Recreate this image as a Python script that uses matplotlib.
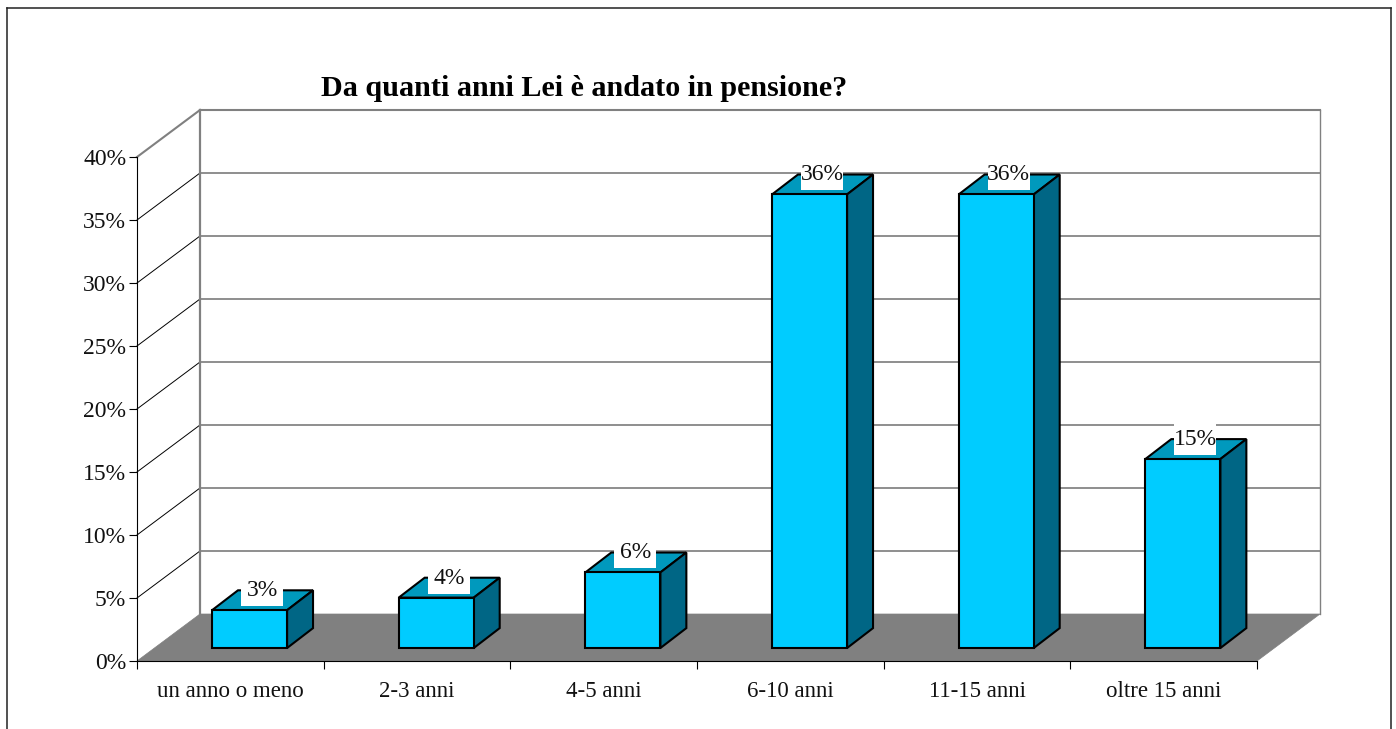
import matplotlib
matplotlib.use("Agg")
import matplotlib.pyplot as plt
from matplotlib.patches import Polygon, Rectangle

plt.rcParams['font.family'] = ['Liberation Serif', 'DejaVu Serif']

categories = ['un anno o meno', '2-3 anni', '4-5 anni', '6-10 anni', '11-15 anni', 'oltre 15 anni']
values = [3, 4, 6, 36, 36, 15]
y_ticks = [0, 5, 10, 15, 20, 25, 30, 35, 40]
title = 'Da quanti anni Lei è andato in pensione?'

W, H = 1396, 729
# front plane of the fake 3d box, in pixels
LEFT, RIGHT, BOTTOM, TOP = 137, 1257, 661, 157

# depth of the box and of the bars, in data units
wall_dx, wall_dy = 0.3375, 3.73
bar_width = 0.402
bar_shift_x, bar_shift_y = 0.603, 1.03
bar_dx, bar_dy = 0.139, 1.58

FRONT = '#00CCFF'
TOPC = '#0099BD'
SIDE = '#006685'
GRAY = '#808080'
GRID = '#707070'

fig = plt.figure(figsize=(W / 100, H / 100), dpi=100)

# outer frame, open at the bottom
frame = fig.add_axes([6.5 / W, 0, (1391 - 6.5) / W, (H - 7.5) / H])
frame.set_xticks([])
frame.set_yticks([])
frame.spines['bottom'].set_visible(False)
for s in ['left', 'right', 'top']:
    frame.spines[s].set_linewidth(1.1)
    frame.spines[s].set_color('#222222')

ax = fig.add_axes([LEFT / W, (H - BOTTOM) / H, (RIGHT - LEFT) / W, (BOTTOM - TOP) / H])
ax.patch.set_visible(False)
ax.set_xlim(0, len(categories))
ax.set_ylim(0, 40)

# floor
ax.add_patch(Polygon([(0, 0), (6, 0), (6 + wall_dx, wall_dy), (wall_dx, wall_dy)],
                     closed=True, fc=GRAY, ec=GRAY, lw=0.5, clip_on=False, zorder=1))

# back wall and side wall lines
for t in y_ticks[1:]:
    col = GRAY if t == 40 else 'black'
    lw = 1.5 if t == 40 else 0.7
    ax.plot([0, wall_dx], [t, t + wall_dy], color=col, lw=lw, clip_on=False, zorder=1)
    ax.plot([wall_dx, 6 + wall_dx], [t + wall_dy, t + wall_dy], color=GRAY if t == 40 else GRID,
            lw=1.5 if t == 40 else 1.1, clip_on=False, zorder=1)
ax.plot([wall_dx, wall_dx], [wall_dy, 40 + wall_dy], color=GRAY, lw=1.6, clip_on=False, zorder=1)
ax.plot([6 + wall_dx, 6 + wall_dx], [wall_dy, 40 + wall_dy], color=GRAY, lw=1, clip_on=False, zorder=1)

# bars
xs = [i + bar_shift_x for i in range(len(values))]
ax.bar(xs, values, width=bar_width, bottom=bar_shift_y, color=FRONT,
       edgecolor='black', linewidth=1.5, clip_on=False, zorder=3)
for x, v in zip(xs, values):
    x0 = x - bar_width / 2
    x1 = x + bar_width / 2
    y0 = bar_shift_y
    y1 = bar_shift_y + v
    ax.add_patch(Polygon([(x0, y1), (x1, y1), (x1 + bar_dx, y1 + bar_dy), (x0 + bar_dx, y1 + bar_dy)],
                         closed=True, fc=TOPC, ec='black', lw=1.5, joinstyle='miter', clip_on=False, zorder=2.5))
    ax.add_patch(Polygon([(x1, y0), (x1 + bar_dx, y0 + bar_dy), (x1 + bar_dx, y1 + bar_dy), (x1, y1)],
                         closed=True, fc=SIDE, ec='black', lw=1.5, joinstyle='miter', clip_on=False, zorder=2.5))
    # label sits on a white box
    lx = x + 0.067
    ly = v + 2.7
    ax.add_patch(Rectangle((lx - 0.1125, ly - 1.35), 0.225, 2.7, fc='white', ec='none',
                           clip_on=False, zorder=4))
    ax.text(lx, ly - 0.12, '{}%'.format(v), ha='center', va='center', fontsize=17, color='#111111', zorder=5)

# axes
for s in ['top', 'right']:
    ax.spines[s].set_visible(False)
for s in ['left', 'bottom']:
    ax.spines[s].set_linewidth(0.8)
    ax.spines[s].set_zorder(2)
ax.set_yticks(y_ticks)
ax.set_yticklabels(['{}%'.format(t) for t in y_ticks])
ax.tick_params(axis='y', length=5.8, width=0.8, pad=2, labelsize=17, labelcolor='#111111')
ax.set_xticks(range(len(categories) + 1))
ax.set_xticklabels([])
ax.set_xticks([i + 0.5 for i in range(len(categories))], minor=True)
ax.set_xticklabels(categories, minor=True)
ax.tick_params(axis='x', which='major', length=5.8, width=0.8)
ax.tick_params(axis='x', which='minor', length=0, pad=14.5, labelsize=16.5, labelcolor='#111111')

fig.text(584 / W, (H - 88) / H, title, ha='center', va='center', fontsize=21.7,
         fontweight='bold', color='black')

fig.savefig('out.png', dpi=100)
